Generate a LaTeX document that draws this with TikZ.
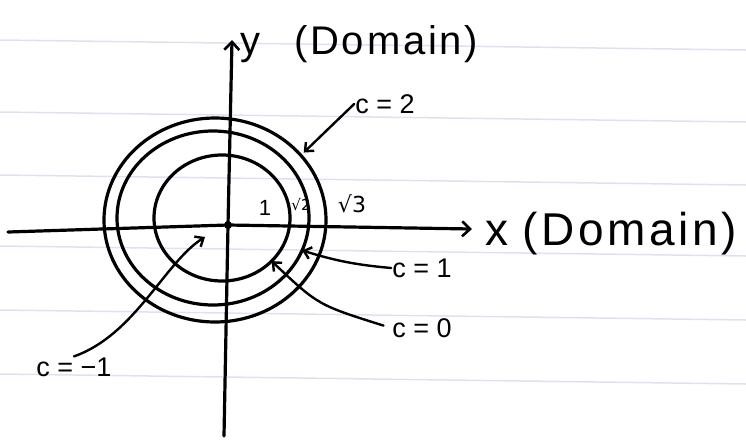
\documentclass[tikz,border=0pt]{standalone}
\usepackage{fontspec}
\setmainfont{Liberation Sans}
\newfontfamily\symf{DejaVu Sans}
\usetikzlibrary{arrows.meta,shapes.geometric}
\begin{document}
\begin{tikzpicture}[x=1pt,y=-1pt,
  ink/.style={black, line width=3.2pt, line cap=round, line join=round},
  curve/.style={ink, draw, ellipse, inner sep=0pt, outer sep=0pt},
  pointer/.style={black, line width=2.4pt, line cap=round,
    -{Straight Barb[length=7pt,width=12pt,line width=2.4pt]}},
  axisarrow/.style={ink, -{Straight Barb[length=8pt,width=15pt,line width=2.6pt]}},
  lbl/.style={font=\fontsize{27}{27}\selectfont, inner sep=1pt},
  paper/.style={line width=1.5pt, color=blue!35!gray!18}
]
\useasboundingbox (0,0) rectangle (746,439);
% ruled paper
\foreach \yy in {40,112,175,246,310,374} \draw[paper] (0,\yy) -- (746,\yy+10);

% level curves
\node[curve, minimum width=222pt, minimum height=204pt] (c2) at (215,220) {};
\node[curve, minimum width=192pt, minimum height=174pt] (c1) at (213,218) {};
\node[curve, minimum width=136pt, minimum height=126pt] (c0) at (222,218) {};

% axes
\coordinate (xl) at (8,232);
\coordinate (xr) at (472,229);
\coordinate (yb) at (224,436);
\coordinate (yt) at (232,40);
\node[circle, fill=black, inner sep=2.8pt] (O) at (228,225) {};
\draw[axisarrow] (xl) -- (O.center) -- (xr);
\draw[axisarrow] (yb) -- (O.center) -- (yt);

% axis labels
\node[font=\fontsize{40}{40}\selectfont, anchor=west, inner sep=0pt] (ylab) at (240,44)
  {y\hspace{34pt}\addfontfeature{LetterSpace=7}(Domain)};
\node[font=\fontsize{46}{46}\selectfont, anchor=west, inner sep=0pt] (xlab) at (485,234)
  {x\hspace{14pt}\addfontfeature{LetterSpace=8}(Domain)};

% radii
\node[font=\fontsize{22}{22}\selectfont, inner sep=0pt] (n1) at (265,208) {1};
\node[font=\symf\fontsize{15}{15}\selectfont, inner sep=0pt] (n2) at (301,205) {√2};
\node[font=\symf\fontsize{22}{22}\selectfont, inner sep=0pt] (n3) at (352,204) {√3};

% level labels
\node[lbl] (l2) at (385,104) {c = 2};
\node[lbl] (l1) at (422,268) {c = 1};
\node[lbl] (l0) at (422,328) {c = 0};
\node[lbl] (lm) at (74,367) {c = −1};
\coordinate (tipm) at (205,237);

% pointers
\draw[pointer, shorten >=4pt] (l2.west) -- (c2.37);
\draw[pointer] (l1.west) to[bend left=6] (c1.-20);
\draw[pointer, shorten <=8pt] (l0.west) .. controls (318,305) .. (c0.-41);
\draw[pointer] (lm.north) .. controls (135,335) and (165,262) .. (tipm);
\end{tikzpicture}
\end{document}
